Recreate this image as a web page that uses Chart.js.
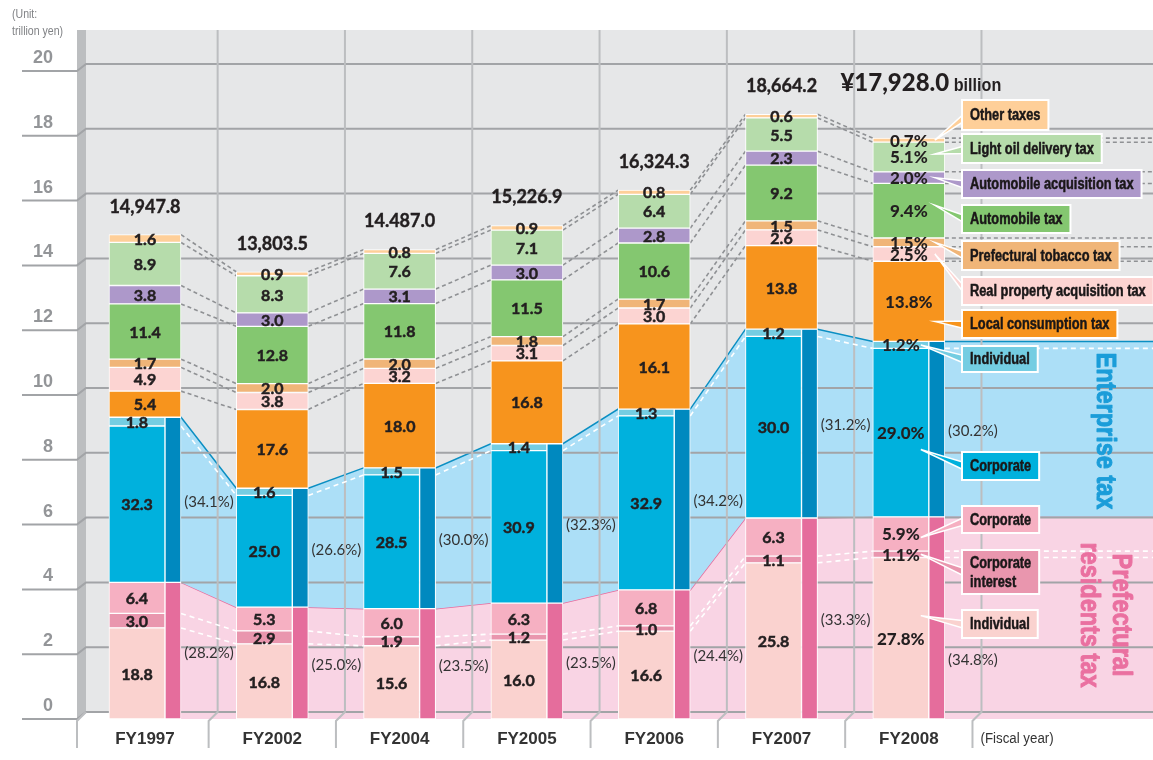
<!DOCTYPE html>
<html>
<head>
<meta charset="utf-8">
<script src="https://cdn.jsdelivr.net/npm/chart.js@4.4.1/dist/chart.umd.min.js"></script>
<style>
html,body{margin:0;padding:0;background:#fff;}
#wrap{width:1153px;height:760px;position:relative;}
</style>
</head>
<body>
<div id="wrap"><canvas id="c"></canvas></div>
<script>
// ---------------- DATA ----------------
const categories = ['FY1997','FY2002','FY2004','FY2005','FY2006','FY2007','FY2008'];
const totals = [14947.8, 13803.5, 14487.0, 15226.9, 16324.3, 18664.2, 17928.0]; // billion yen
const totalLabels = ['14,947.8','13,803.5','14.487.0','15,226.9','16,324.3','18,664.2','¥17,928.0'];
// shares (%) of each tax, bottom to top
const resIndividual    = [18.8, 16.8, 15.6, 16.0, 16.6, 25.8, 27.8];
const resCorpInterest  = [3.0, 2.9, 1.9, 1.2, 1.0, 1.1, 1.1];
const resCorporate     = [6.4, 5.3, 6.0, 6.3, 6.8, 6.3, 5.9];
const entCorporate     = [32.3, 25.0, 28.5, 30.9, 32.9, 30.0, 29.0];
const entIndividual    = [1.8, 1.6, 1.5, 1.4, 1.3, 1.2, 1.2];
const localConsumption = [5.4, 17.6, 18.0, 16.8, 16.1, 13.8, 13.8];
const realProperty     = [4.9, 3.8, 3.2, 3.1, 3.0, 2.6, 2.5];
const tobacco          = [1.7, 2.0, 2.0, 1.8, 1.7, 1.5, 1.5];
const automobile       = [11.4, 12.8, 11.8, 11.5, 10.6, 9.2, 9.4];
const autoAcquisition  = [3.8, 3.0, 3.1, 3.0, 2.8, 2.3, 2.0];
const lightOil         = [8.9, 8.3, 7.6, 7.1, 6.4, 5.5, 5.1];
const otherTaxes       = [1.6, 0.9, 0.8, 0.9, 0.8, 0.6, 0.7];
const residentsShare   = ['28.2','25.0','23.5','23.5','24.4','33.3','34.8'];
const enterpriseShare  = ['34.1','26.6','30.0','32.3','34.2','31.2','30.2'];
const yTicks = [0, 2, 4, 6, 8, 10, 12, 14, 16, 18, 20];

// ---------------- STYLE / LAYOUT ----------------
const SEGMENTS = [
  {name:'Individual',                   values: resIndividual,    color:'#fad2cf', part:'lower'},
  {name:'Corporate interest',           values: resCorpInterest,  color:'#e996ae', part:'lower'},
  {name:'Corporate',                    values: resCorporate,     color:'#f6b0c2', part:'lower'},
  {name:'Corporate',                    values: entCorporate,     color:'#00b1dd', part:'lower'},
  {name:'Individual',                   values: entIndividual,    color:'#74cde2', part:'lower'},
  {name:'Local consumption tax',        values: localConsumption, color:'#f7941d', part:'upper'},
  {name:'Real property acquisition tax',values: realProperty,     color:'#fcd4d2', part:'upper'},
  {name:'Prefectural tobacco tax',      values: tobacco,          color:'#f0b578', part:'upper'},
  {name:'Automobile tax',               values: automobile,       color:'#84c770', part:'upper'},
  {name:'Automobile acquisition tax',   values: autoAcquisition,  color:'#ad98ca', part:'upper'},
  {name:'Light oil delivery tax',       values: lightOil,         color:'#b6dcab', part:'upper'},
  {name:'Other taxes',                  values: otherTaxes,       color:'#fecf99', part:'upper'},
];
const SIDE_RES_COLOR = '#e56d9c', SIDE_ENT_COLOR = '#0089bf';
const X_MIN = -0.534, X_MAX = 7.918;
const HALF = 0.283, LOWER_OFF = -0.063, SIDE_OFF = 0.22;
const NUM_FONT = 'Lato, "DejaVu Sans", sans-serif';
const SANS = '"Liberation Sans", Arial, sans-serif';

// stacked extents (trillion yen) built from the shares
const stacks = categories.map((c, i) => {
  const sum = SEGMENTS.reduce((a, s) => a + s.values[i], 0);
  const k = totals[i] / 1000 / sum;
  let base = 0;
  return SEGMENTS.map(s => { const lo = base; base += s.values[i] * k; return [lo, base]; });
});
const resTop = stacks.map(s => s[2][1]);
const entTop = stacks.map(s => s[4][1]);

function areaPoints(arr) {
  const pts = [];
  arr.forEach((v, i) => { pts.push({x: i - HALF, y: v}); pts.push({x: i + HALF, y: v}); });
  pts.push({x: X_MAX, y: arr[arr.length - 1]});
  return pts;
}

const datasets = [
  {type:'line', label:'residents area', data: areaPoints(resTop), borderColor:'#e96a9c', borderWidth:1.5,
   backgroundColor:'#f9d4e4', fill:'origin', pointRadius:0, tension:0, order:10},
  {type:'line', label:'enterprise area', data: areaPoints(entTop), borderColor:'#0b8fc3', borderWidth:1.5,
   backgroundColor:'#acdff7', fill:'-1', pointRadius:0, tension:0, order:9},
];
SEGMENTS.forEach((s, si) => {
  datasets.push({
    type:'bar', label:s.name,
    data: categories.map((c, i) => ({x: i + (s.part === 'lower' ? LOWER_OFF : 0), y: stacks[i][si]})),
    backgroundColor: s.color, borderColor:'#ffffff', borderWidth:1, borderSkipped:false,
    barThickness: s.part === 'lower' ? 56 : 72, grouped:false, order:0
  });
});
datasets.push({type:'bar', label:'Prefectural residents tax',
  data: categories.map((c, i) => ({x: i + SIDE_OFF, y: [0, resTop[i]]})),
  backgroundColor: SIDE_RES_COLOR, borderColor:'#fff', borderWidth:1, borderSkipped:false,
  barThickness:16, grouped:false, order:0});
datasets.push({type:'bar', label:'Enterprise tax',
  data: categories.map((c, i) => ({x: i + SIDE_OFF, y: [resTop[i], entTop[i]]})),
  backgroundColor: SIDE_ENT_COLOR, borderColor:'#fff', borderWidth:1, borderSkipped:false,
  barThickness:16, grouped:false, order:0});

// callout boxes (FY2008)
const CALLOUTS = [
  {seg:11, text:['Other taxes'],                   top:100, h:30, w:81,  frac:0.5},
  {seg:10, text:['Light oil delivery tax'],        top:134, h:29, w:136, frac:0.6},
  {seg:9,  text:['Automobile acquisition tax'],    top:170, h:28, w:174, frac:0.5},
  {seg:8,  text:['Automobile tax'],                top:205, h:28, w:105, frac:0.6},
  {seg:7,  text:['Prefectural tobacco tax'],       top:241, h:29, w:155, frac:0.5},
  {seg:6,  text:['Real property acquisition tax'], top:277, h:28, w:185, frac:0.5},
  {seg:5,  text:['Local consumption tax'],         top:310, h:28, w:150, frac:0.25},
  {seg:4,  text:['Individual'],                    top:346, h:26, w:74,  frac:0.5},
  {seg:3,  text:['Corporate'],                     top:452, h:28, w:74,  frac:0.4},
  {seg:2,  text:['Corporate'],                     top:506, h:27, w:74,  frac:0.4},
  {seg:1,  text:['Corporate','interest'],          top:550, h:44, w:74,  frac:0.5},
  {seg:0,  text:['Individual'],                    top:610, h:28, w:74,  frac:0.64},
];

// draws horizontally condensed text (optionally thickened)
function narrowText(ctx, t, x, y, font, sx, align, thicken) {
  ctx.save();
  ctx.font = font;
  const w = ctx.measureText(t).width * sx;
  const x0 = align === 'center' ? x - w / 2 : (align === 'right' ? x - w : x);
  ctx.translate(x0, y); ctx.scale(sx, 1);
  ctx.textAlign = 'left';
  ctx.fillText(t, 0, 0);
  if (thicken) { ctx.strokeStyle = ctx.fillStyle; ctx.lineWidth = thicken; ctx.lineJoin = 'round'; ctx.strokeText(t, 0, 0); }
  ctx.restore();
  return w;
}
function narrowWidth(ctx, t, font, sx) {
  ctx.save(); ctx.font = font; const w = ctx.measureText(t).width * sx; ctx.restore(); return w;
}

const deco = {
  id:'deco',
  beforeDatasetsDraw(chart) {
    const ctx = chart.ctx, ca = chart.chartArea;
    ctx.save();
    ctx.fillStyle = '#e6e7e8';
    ctx.fillRect(ca.left + 9, 30, chart.width - ca.left - 9, ca.bottom - 7 - 30);
    ctx.fillStyle = '#bcbec0';
    ctx.beginPath();
    ctx.moveTo(ca.left, 30); ctx.lineTo(ca.left + 9, 30); ctx.lineTo(ca.left + 9, ca.bottom - 7);
    ctx.lineTo(ca.left, ca.bottom); ctx.closePath(); ctx.fill();
    ctx.restore();
  },
  afterDatasetDraw(chart, args) {
    if (args.index !== 1) return;
    const ctx = chart.ctx, ca = chart.chartArea, xs = chart.scales.x, ys = chart.scales.y;
    ctx.save();
    // horizontal grid (3D offset)
    ctx.strokeStyle = '#a2a4a7'; ctx.lineWidth = 2;
    yTicks.forEach(v => {
      const y = ys.getPixelForValue(v);
      ctx.beginPath();
      ctx.moveTo(22, y); ctx.lineTo(ca.left, y); ctx.lineTo(ca.left + 9, y - 7); ctx.lineTo(chart.width, y - 7);
      ctx.stroke();
    });
    // vertical grid at category boundaries
    ctx.strokeStyle = '#bcbec0';
    for (let k = 0; k <= categories.length; k++) {
      const x = k === 0 ? ca.left : xs.getPixelForValue(k - 0.5);
      ctx.beginPath();
      ctx.moveTo(x, 748); ctx.lineTo(x, ca.bottom + 2); ctx.lineTo(x + 9, ca.bottom - 7);
      if (k > 0) ctx.lineTo(x + 9, 30);
      ctx.stroke();
    }
    // connector dashes
    function connect(si, color, dash, width) {
      ctx.strokeStyle = color; ctx.setLineDash(dash); ctx.lineWidth = width;
      for (let i = 0; i < categories.length; i++) {
        const last = i === categories.length - 1;
        const x1 = xs.getPixelForValue(i + HALF);
        const x2 = last ? chart.width : xs.getPixelForValue(i + 1 - HALF);
        const y1 = ys.getPixelForValue(stacks[i][si][1]);
        const y2 = last ? y1 : ys.getPixelForValue(stacks[i + 1][si][1]);
        ctx.beginPath(); ctx.moveTo(x1, y1); ctx.lineTo(x2, y2); ctx.stroke();
      }
    }
    for (let si = 5; si < 12; si++) connect(si, '#8f9194', [4, 3], 1.6);
    [0, 1, 3].forEach(si => connect(si, '#ffffff', [5, 4], 1.6));
    ctx.setLineDash([]);
    ctx.restore();
  },
  afterDatasetsDraw(chart) {
    const ctx = chart.ctx, xs = chart.scales.x, ys = chart.scales.y;
    const last = categories.length - 1;
    ctx.save();
    ctx.textAlign = 'center'; ctx.textBaseline = 'middle';
    // segment values
    SEGMENTS.forEach((s, si) => {
      const meta = chart.getDatasetMeta(2 + si);
      meta.data.forEach((el, i) => {
        const isLast = i === last;
        ctx.fillStyle = '#231f20';
        ctx.font = (isLast ? '900 17px ' : 'bold 16px ') + NUM_FONT;
        const t = s.values[i].toFixed(1) + (isLast ? '%' : '');
        const y = (el.y + el.base) / 2 + 1;
        ctx.fillText(t, el.x, y);
        if (!isLast) { ctx.strokeStyle = '#231f20'; ctx.lineWidth = 0.5; ctx.strokeText(t, el.x, y); }
      });
    });
    // side share labels
    ctx.font = '15px ' + NUM_FONT; ctx.fillStyle = '#333333';
    const resMeta = chart.getDatasetMeta(14), entMeta = chart.getDatasetMeta(15);
    categories.forEach((c, i) => {
      const x = xs.getPixelForValue(i + HALF) + 28;
      const r = resMeta.data[i], e = entMeta.data[i];
      const rf = i === last ? 0.3 : 0.5;
      ctx.fillText('(' + residentsShare[i] + '%)', x, r.base + (r.y - r.base) * rf + 2);
      ctx.fillText('(' + enterpriseShare[i] + '%)', x, (e.y + e.base) / 2 + 2);
    });
    // totals
    ctx.fillStyle = '#231f20';
    categories.forEach((c, i) => {
      const xc = xs.getPixelForValue(i);
      const top = ys.getPixelForValue(stacks[i][11][1]);
      if (i < last) {
        ctx.font = 'bold 18px ' + NUM_FONT; ctx.textAlign = 'center';
        ctx.fillText(totalLabels[i], xc, top - 28);
        ctx.strokeStyle = '#231f20'; ctx.lineWidth = 0.4; ctx.strokeText(totalLabels[i], xc, top - 28);
      } else {
        ctx.textAlign = 'left'; ctx.textBaseline = 'alphabetic';
        ctx.font = '900 24px ' + NUM_FONT;
        const w1 = ctx.measureText(totalLabels[i]).width;
        const bf = 'bold 19px ' + SANS;
        const w2 = narrowWidth(ctx, ' billion', bf, 0.85);
        const x0 = xc + 12 - (w1 + w2) / 2;
        ctx.font = '900 24px ' + NUM_FONT; ctx.fillText(totalLabels[i], x0, 91);
        narrowText(ctx, ' billion', x0 + w1, 91, bf, 0.85, 'left');
        ctx.textBaseline = 'middle';
      }
    });
    // rotated titles
    ctx.textBaseline = 'middle';
    function vtext(t, x, y, color) {
      ctx.save(); ctx.translate(x, y); ctx.rotate(Math.PI / 2);
      ctx.fillStyle = color;
      narrowText(ctx, t, 0, 0, 'bold 28px ' + SANS, 0.84, 'center', 1);
      ctx.restore();
    }
    vtext('Enterprise tax', 1105, 431, '#1b9dd9');
    vtext('Prefectural', 1121, 615, '#ea70a0');
    vtext('residents tax', 1089, 615, '#ea70a0');
    // callouts
    const boxFont = 'bold 16px ' + SANS, SX = 0.8;
    CALLOUTS.forEach(co => {
      const el = chart.getDatasetMeta(2 + co.seg).data[last];
      const tipX = el.x + (SEGMENTS[co.seg].part === 'lower' ? 20 : 26);
      const tipY = el.base + (el.y - el.base) * co.frac;
      const bx = 962, cy = co.top + co.h / 2;
      const color = SEGMENTS[co.seg].color;
      ctx.beginPath();
      ctx.moveTo(tipX, tipY); ctx.lineTo(bx + 4, cy - 3); ctx.lineTo(bx + 4, cy + 5); ctx.closePath();
      ctx.fillStyle = color; ctx.fill();
      ctx.strokeStyle = '#fff'; ctx.lineWidth = 1.5; ctx.stroke();
      let tw = 0; co.text.forEach(t => tw = Math.max(tw, narrowWidth(ctx, t, boxFont, SX)));
      const w = Math.max(co.w, tw + 16);
      ctx.fillStyle = color; ctx.fillRect(bx, co.top, w, co.h);
      ctx.strokeStyle = '#fff'; ctx.lineWidth = 2; ctx.strokeRect(bx, co.top, w, co.h);
      ctx.fillStyle = '#1a1718';
      const lh = 19;
      co.text.forEach((t, j) => narrowText(ctx, t, bx + 8, cy + (j - (co.text.length - 1) / 2) * lh + 1, boxFont, SX, 'left', 0.5));
    });
    // unit and fiscal year notes
    ctx.fillStyle = '#808285';
    narrowText(ctx, '(Unit:', 12, 15, '12px ' + SANS, 0.88, 'left');
    narrowText(ctx, 'trillion yen)', 12, 32, '12px ' + SANS, 0.88, 'left');
    ctx.fillStyle = '#333';
    narrowText(ctx, '(Fiscal year)', xs.getPixelForValue(last + 0.5) + 8, 739, '14px ' + SANS, 0.95, 'left');
    ctx.restore();
  }
};

new Chart(document.getElementById('c'), {
  type:'bar',
  data:{datasets},
  options:{
    responsive:true, maintainAspectRatio:false, animation:false, events:[],
    layout:{padding:{top:71, left:0, right:0, bottom:0}},
    plugins:{legend:{display:false}, tooltip:{enabled:false}},
    scales:{
      x:{type:'linear', min:X_MIN, max:X_MAX, offset:false,
         grid:{display:false, drawTicks:false}, border:{display:false},
         afterBuildTicks(s){ s.ticks = categories.map((c, i) => ({value:i})); },
         afterFit(s){ s.height = 41; },
         ticks:{callback:(v) => categories[v] ?? '', maxRotation:0, autoSkip:false, padding:10,
                color:'#333333', font:{family:SANS, weight:'bold', size:17}}},
      y:{type:'linear', min:0, max:20, stacked:false,
         grid:{display:false, drawTicks:false}, border:{display:false},
         afterBuildTicks(s){ s.ticks = yTicks.map(v => ({value:v})); },
         afterFit(s){ s.width = 77; },
         ticks:{padding:24, labelOffset:-13, color:'#939598',
                font:{family:SANS, weight:'bold', size:18}}}
    }
  },
  plugins:[deco]
});
</script>
</body>
</html>
